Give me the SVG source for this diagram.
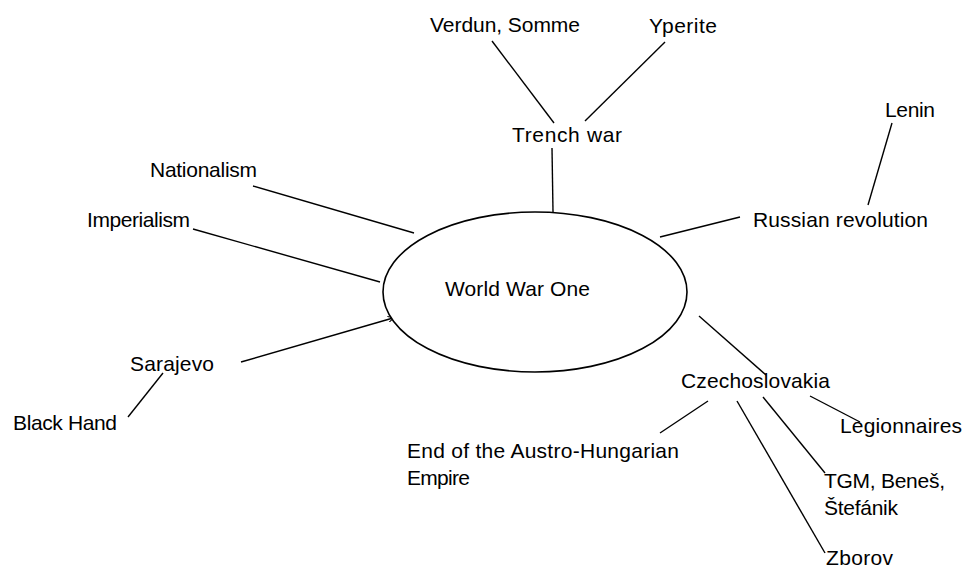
<svg xmlns="http://www.w3.org/2000/svg" width="964" height="570" viewBox="0 0 964 570">
<style>
text{font-family:"Liberation Sans",Arial,sans-serif;font-size:21px;fill:#000}
.c line{stroke:#000;stroke-width:1.4;fill:none}
ellipse{stroke:#000;stroke-width:1.6;fill:#fff}
</style>
<defs>
<marker id="a" viewBox="0 0 6 6" refX="5" refY="3" markerWidth="6" markerHeight="6" markerUnits="userSpaceOnUse" orient="auto"><path d="M0,0 L6,3 L0,6" fill="none" stroke="#000" stroke-width="1"/></marker>
</defs>
<rect width="964" height="570" fill="#fff"/>
<g class="c" id="connectors">
<line x1="492" y1="41" x2="554" y2="123"/>
<line x1="665" y1="42" x2="585" y2="121"/>
<line x1="552" y1="148" x2="553" y2="212"/>
<line x1="253" y1="186" x2="414" y2="233"/>
<line x1="193" y1="229" x2="380" y2="282"/>
<line x1="241" y1="362" x2="393" y2="318" marker-end="url(#a)"/>
<line x1="128" y1="417" x2="163" y2="373"/>
<line x1="740" y1="217" x2="660" y2="237"/>
<line x1="892" y1="123" x2="868" y2="205"/>
<line x1="699" y1="316" x2="766" y2="375"/>
<line x1="708" y1="401" x2="660" y2="433"/>
<line x1="737" y1="401" x2="825" y2="553"/>
<line x1="763" y1="397" x2="825" y2="473"/>
<line x1="810" y1="396" x2="860" y2="422"/>
</g>
<g id="wwone"><ellipse cx="535" cy="292" rx="152" ry="80"/><text x="445" y="296" textLength="145">World War One</text></g>
<g id="trench"><text x="512" y="142" textLength="110">Trench war</text></g>
<g id="verdun"><text x="430" y="32" textLength="150">Verdun, Somme</text></g>
<g id="yperite"><text x="649" y="33" textLength="68">Yperite</text></g>
<g id="nationalism"><text x="150" y="177" textLength="107">Nationalism</text></g>
<g id="imperialism"><text x="87" y="227" textLength="103">Imperialism</text></g>
<g id="sarajevo"><text x="130" y="371" textLength="84">Sarajevo</text></g>
<g id="blackhand"><text x="13" y="430" textLength="104">Black Hand</text></g>
<g id="russian"><text x="753" y="227" textLength="175">Russian revolution</text></g>
<g id="lenin"><text x="885" y="117" textLength="50">Lenin</text></g>
<g id="czech"><text x="681" y="388" textLength="149">Czechoslovakia</text></g>
<g id="legion"><text x="840" y="433" textLength="122">Legionnaires</text></g>
<g id="end"><text x="407" y="458" textLength="272">End of the Austro-Hungarian</text><text x="407" y="485" textLength="63">Empire</text></g>
<g id="tgm"><text x="824" y="488" textLength="121">TGM, Beneš,</text><text x="824" y="515" textLength="74">Štefánik</text></g>
<g id="zborov"><text x="826" y="565" textLength="67">Zborov</text></g>
</svg>
